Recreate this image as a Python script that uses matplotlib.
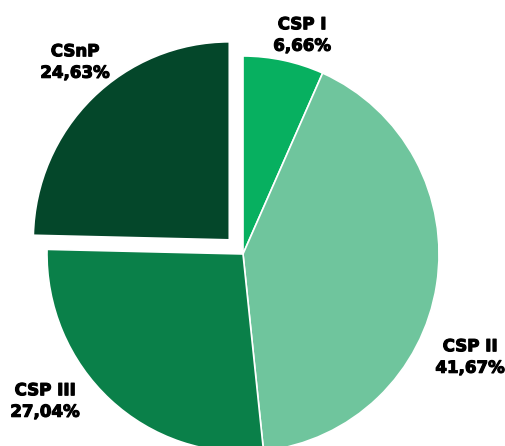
import matplotlib
matplotlib.use("Agg")
import matplotlib.pyplot as plt
import matplotlib.patheffects as pe

categories = ["CSP I", "CSP II", "CSP III", "CSnP"]
shares = [6.66, 41.67, 27.04, 24.63]
colors = ["#07b060", "#6fc59d", "#0a8049", "#04472a"]
pull_out = [0, 0, 0, 0.1]  # fraction of the radius

# label anchor positions in pixels from the top-left corner
label_xy = [(302, 35), (470, 357), (45, 401), (75, 62)]

W, H = 506, 446
CX, CY = 243, 254      # pie centre, pixels from top-left
RX, RY = 196, 198      # drawn radius, pixels

fig = plt.figure(figsize=(W / 100, H / 100), dpi=100)
ax = fig.add_axes([0, 0, 1, 1])

ax.pie(shares, colors=colors, explode=pull_out,
       startangle=90, counterclock=False, radius=1, frame=True,
       wedgeprops=dict(edgecolor="white", linewidth=1.2))

ax.set_aspect("auto")
ax.set_xlim(-CX / RX, (W - CX) / RX)
ax.set_ylim(-(H - CY) / RY, CY / RY)
ax.axis("off")

for name, val, (x, y) in zip(categories, shares, label_xy):
    txt = f"{name}\n{val:.2f}%".replace(".", ",")
    fig.text(x / W, 1 - y / H, txt, ha="center", va="center", fontsize=12,
             fontweight="bold", family="DejaVu Sans", color="black",
             linespacing=1.25,
             path_effects=[pe.withStroke(linewidth=0.8, foreground="black")])

fig.savefig("out.png", dpi=100)
